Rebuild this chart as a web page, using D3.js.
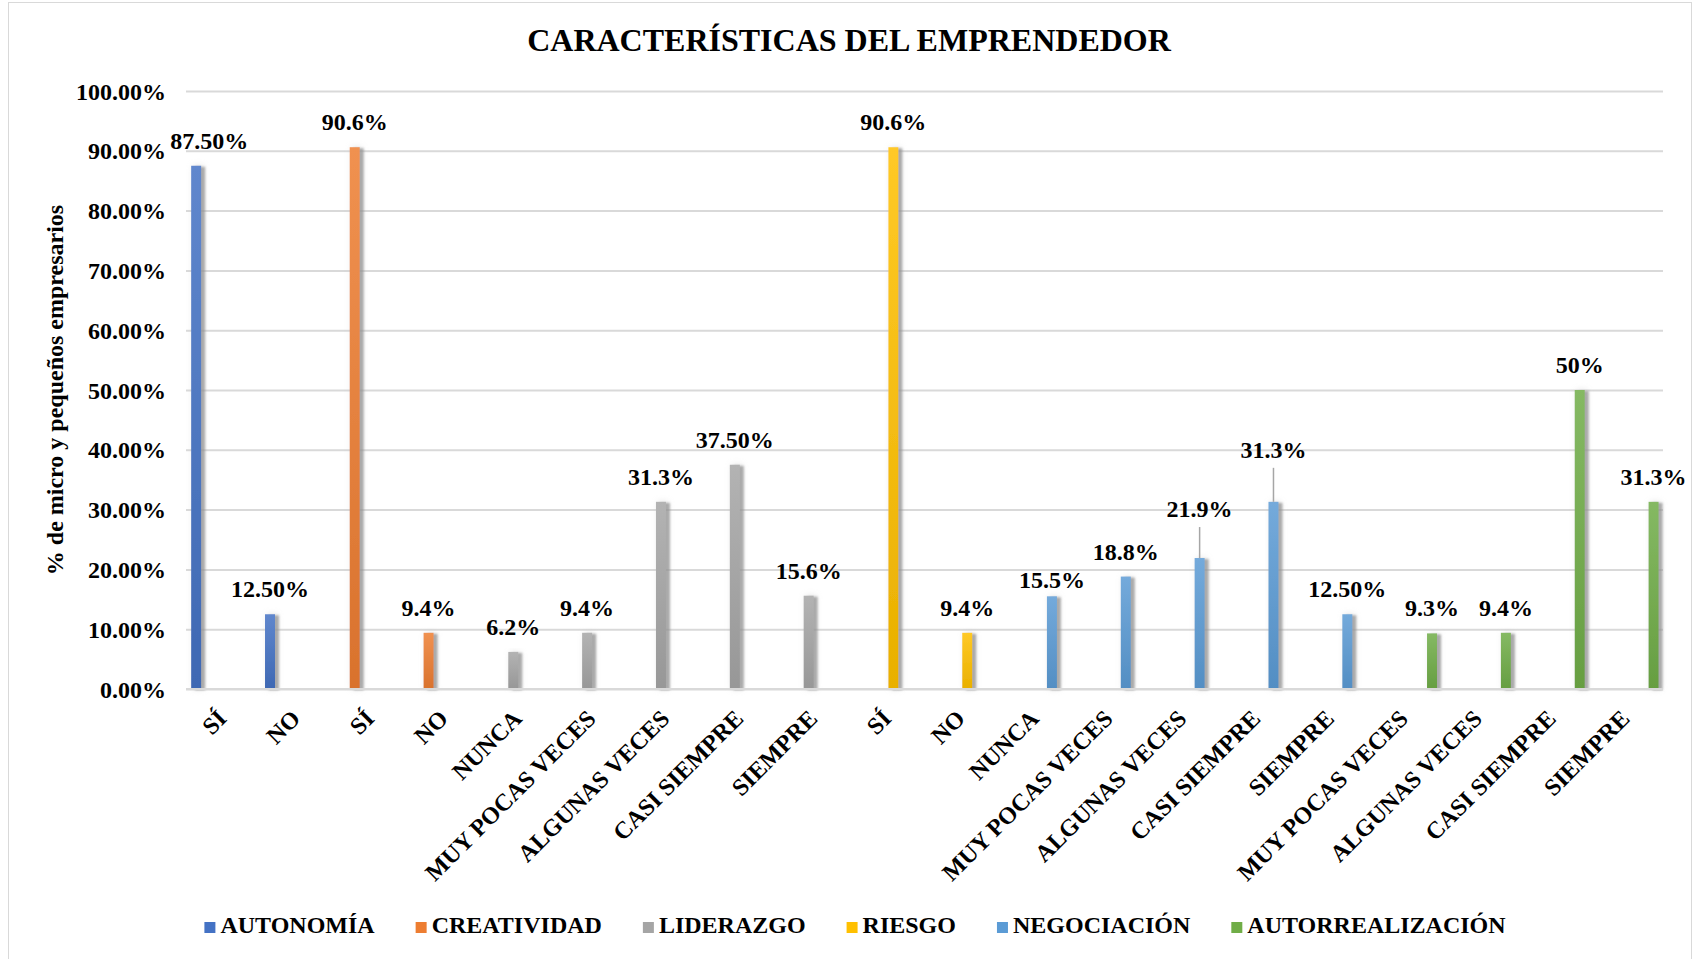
<!DOCTYPE html>
<html>
<head>
<meta charset="utf-8">
<script src="https://cdn.jsdelivr.net/npm/d3@7"></script>
<style>
  html, body { margin: 0; padding: 0; background: #fff; }
  svg text { font-family: "Liberation Serif", "Times New Roman", serif; font-weight: bold; fill: #000; }
</style>
</head>
<body>
<div id="chart"></div>
<script>
// Data
const categories = ['SÍ', 'NO', 'SÍ', 'NO', 'NUNCA', 'MUY POCAS VECES', 'ALGUNAS VECES', 'CASI SIEMPRE', 'SIEMPRE',
  'SÍ', 'NO', 'NUNCA', 'MUY POCAS VECES', 'ALGUNAS VECES', 'CASI SIEMPRE', 'SIEMPRE',
  'MUY POCAS VECES', 'ALGUNAS VECES', 'CASI SIEMPRE', 'SIEMPRE'];
const seriesNames = ['AUTONOMÍA', 'CREATIVIDAD', 'LIDERAZGO', 'RIESGO', 'NEGOCIACIÓN', 'AUTORREALIZACIÓN'];
const seriesOf = [0, 0, 1, 1, 2, 2, 2, 2, 2, 3, 3, 4, 4, 4, 4, 4, 5, 5, 5, 5];
const values = [87.5, 12.5, 90.6, 9.4, 6.2, 9.4, 31.3, 37.5, 15.6, 90.6, 9.4, 15.5, 18.8, 21.9, 31.3, 12.5, 9.3, 9.4, 50, 31.3];
const valueLabels = ['87.50%', '12.50%', '90.6%', '9.4%', '6.2%', '9.4%', '31.3%', '37.50%', '15.6%', '90.6%',
  '9.4%', '15.5%', '18.8%', '21.9%', '31.3%', '12.50%', '9.3%', '9.4%', '50%', '31.3%'];
const yTicks = [0, 10, 20, 30, 40, 50, 60, 70, 80, 90, 100];
const colors = ['#4472C4', '#ED7D31', '#A5A5A5', '#FFC000', '#5B9BD5', '#70AD47'];

// manual label nudges (index -> [dx, dy, leader line])
const labelNudge = { 0: [13, 0, false], 11: [0, 9, false], 13: [0, -24, true], 14: [0, -27, true] };

const width = 1696, height = 959;
const plot = { left: 186, right: 1663, top: 91, bottom: 689 };

const svg = d3.select('#chart').append('svg')
  .attr('width', width)
  .attr('height', height);

const defs = svg.append('defs');
colors.forEach((c, i) => {
  const g = defs.append('linearGradient')
    .attr('id', 'grad' + i)
    .attr('x1', 0).attr('y1', 0).attr('x2', 0).attr('y2', 1);
  g.append('stop').attr('offset', '0%').attr('stop-color', d3.interpolateRgb(c, '#fff')(0.15));
  g.append('stop').attr('offset', '100%').attr('stop-color', d3.rgb(c).darker(0.25));
});

// bar shadow: solid grey band to the right plus a faint halo
const shadow = defs.append('filter').attr('id', 'shadow')
  .attr('x', '-150%').attr('y', '-10%').attr('width', '400%').attr('height', '120%');
shadow.append('feGaussianBlur').attr('in', 'SourceAlpha').attr('stdDeviation', 0.8).attr('result', 'b1');
shadow.append('feOffset').attr('in', 'b1').attr('dx', 4).attr('dy', 1).attr('result', 'o1');
shadow.append('feFlood').attr('flood-color', '#8c8c8c').attr('flood-opacity', 0.7).attr('result', 'c1');
shadow.append('feComposite').attr('in', 'c1').attr('in2', 'o1').attr('operator', 'in').attr('result', 's1');
shadow.append('feGaussianBlur').attr('in', 'SourceAlpha').attr('stdDeviation', 3).attr('result', 'b2');
shadow.append('feOffset').attr('in', 'b2').attr('dx', 2).attr('dy', 0).attr('result', 'o2');
shadow.append('feFlood').attr('flood-color', '#bfbfbf').attr('flood-opacity', 0.45).attr('result', 'c2');
shadow.append('feComposite').attr('in', 'c2').attr('in2', 'o2').attr('operator', 'in').attr('result', 's2');
const merge = shadow.append('feMerge');
merge.append('feMergeNode').attr('in', 's2');
merge.append('feMergeNode').attr('in', 's1');
merge.append('feMergeNode').attr('in', 'SourceGraphic');

// chart border
svg.append('rect')
  .attr('x', 8.5).attr('y', 2.5)
  .attr('width', 1683).attr('height', 970)
  .attr('fill', 'none')
  .attr('stroke', '#d9d9d9');

// Title
svg.append('text')
  .attr('x', 849).attr('y', 51)
  .attr('text-anchor', 'middle')
  .style('font-size', '32px')
  .text('CARACTERÍSTICAS DEL EMPRENDEDOR');

// Scales
const x = d3.scaleBand()
  .domain(d3.range(categories.length))
  .range([plot.left, plot.right]);

const xSeries = d3.scaleBand()
  .domain(d3.range(seriesNames.length))
  .range([x.bandwidth() * 0.07, x.bandwidth() * 0.94])
  .paddingInner(0.08);

const y = d3.scaleLinear()
  .domain([0, 100])
  .range([plot.bottom, plot.top]);

// Gridlines + Y axis
const yAxis = svg.append('g')
  .attr('transform', 'translate(' + plot.left + ',0)')
  .call(d3.axisLeft(y)
    .tickValues(yTicks)
    .tickSize(-(plot.right - plot.left))
    .tickPadding(20)
    .tickFormat(d => d.toFixed(2) + '%'));
yAxis.select('.domain').remove();
yAxis.selectAll('line').attr('stroke', '#d9d9d9').attr('stroke-width', 2);
yAxis.selectAll('text').style('font-size', '24px').attr('dy', '0.34em');

svg.append('text')
  .attr('transform', 'translate(63,' + 390 + ') rotate(-90)')
  .attr('text-anchor', 'middle')
  .style('font-size', '24px')
  .text('% de micro y pequeños empresarios');

// Bars
const barX = i => x(i) + xSeries(seriesOf[i]);
svg.append('g')
  .selectAll('rect')
  .data(values)
  .enter().append('rect')
    .attr('x', (d, i) => barX(i))
    .attr('y', d => y(d))
    .attr('width', xSeries.bandwidth())
    .attr('height', d => plot.bottom - y(d))
    .attr('fill', (d, i) => 'url(#grad' + seriesOf[i] + ')')
    .attr('filter', 'url(#shadow)');

// baseline
svg.append('line')
  .attr('x1', plot.left).attr('x2', plot.right)
  .attr('y1', plot.bottom).attr('y2', plot.bottom)
  .attr('stroke', '#d9d9d9').attr('stroke-width', 2);

// Category labels
svg.append('g')
  .selectAll('text')
  .data(categories)
  .enter().append('text')
    .attr('transform', (d, i) => 'translate(' + (x(i) + x.bandwidth() / 2 + 5) + ',' + (plot.bottom + 31) + ') rotate(-45)')
    .attr('text-anchor', 'end')
    .style('font-size', '24px')
    .text(d => d);

// Value labels
const labels = svg.append('g');
values.forEach((v, i) => {
  const nudge = labelNudge[i] || [0, 0, false];
  const cx = barX(i) + xSeries.bandwidth() / 2;
  const base = y(v) - 17 + nudge[1];
  labels.append('text')
    .attr('x', cx + nudge[0])
    .attr('y', base)
    .attr('text-anchor', 'middle')
    .style('font-size', '24px')
    .text(valueLabels[i]);
  if (nudge[2]) {
    labels.append('line')
      .attr('x1', cx).attr('x2', cx)
      .attr('y1', base + 10).attr('y2', y(v))
      .attr('stroke', '#a6a6a6').attr('stroke-width', 1.5);
  }
});

// Legend
const legend = svg.append('g');
let lx = 0;
seriesNames.forEach((name, i) => {
  const item = legend.append('g').attr('transform', 'translate(' + lx + ',0)');
  item.append('rect')
    .attr('x', 0).attr('y', -11)
    .attr('width', 11).attr('height', 11)
    .attr('fill', colors[i]);
  const t = item.append('text')
    .attr('x', 16).attr('y', 0)
    .style('font-size', '24px')
    .text(name);
  lx += 16 + t.node().getComputedTextLength() + 41;
});
lx -= 41;
legend.attr('transform', 'translate(' + (855 - lx / 2) + ',933)');
</script>
</body>
</html>
